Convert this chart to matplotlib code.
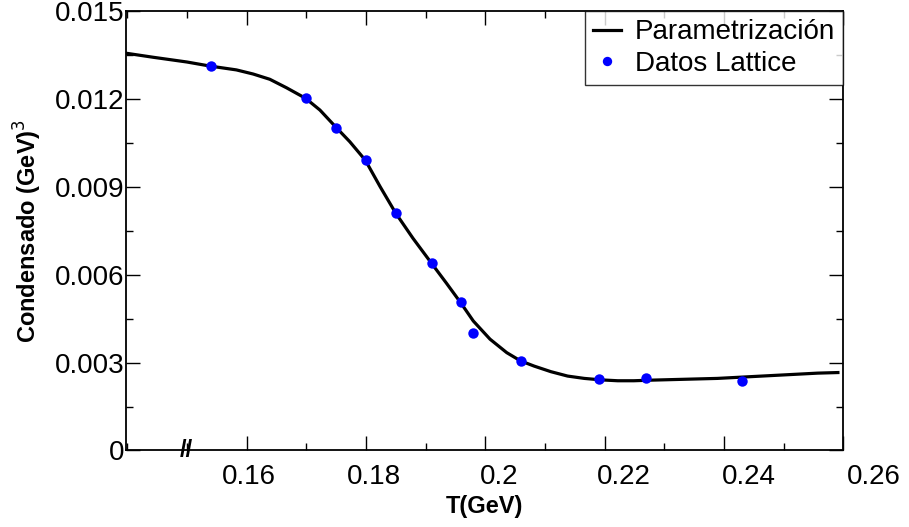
import numpy as np
import matplotlib
matplotlib.use('Agg')
import matplotlib.pyplot as plt
from matplotlib.ticker import MultipleLocator, FixedLocator
from matplotlib.transforms import ScaledTranslation

plt.rcParams['font.family'] = ['Liberation Sans', 'DejaVu Sans']

# Lattice data points
t_lat = [0.154, 0.170, 0.175, 0.180, 0.185, 0.191, 0.196, 0.198, 0.206, 0.219, 0.227, 0.243]
c_lat = [0.01311, 0.01202, 0.01100, 0.00991, 0.00810, 0.00639, 0.00508, 0.00402,
         0.00306, 0.00243, 0.00248, 0.00238]

# Parametrization curve
t_par = [0.1398, 0.1444, 0.1500, 0.1539, 0.1583, 0.1611, 0.1639, 0.1667, 0.1699,
         0.1723, 0.1750, 0.1773, 0.1799, 0.1824, 0.1850, 0.1879, 0.1910, 0.1935,
         0.1959, 0.1980, 0.2008, 0.2036, 0.2059, 0.2082, 0.2110, 0.2138, 0.2166,
         0.2194, 0.2222, 0.2249, 0.2277, 0.2333, 0.2389, 0.2445, 0.2501, 0.2557,
         0.2591]
c_par = [0.01356, 0.01342, 0.01326, 0.01312, 0.01299, 0.01285, 0.01267, 0.01238,
         0.01202, 0.01162, 0.01103, 0.01054, 0.00991, 0.00900, 0.00810, 0.00724,
         0.00639, 0.00571, 0.00504, 0.00442, 0.00380, 0.00334, 0.00306, 0.00288,
         0.00269, 0.00254, 0.00246, 0.00241, 0.00238, 0.00238, 0.00240, 0.00243,
         0.00246, 0.00252, 0.00258, 0.00264, 0.00266]

xticks = [0.16, 0.18, 0.2, 0.22, 0.24, 0.26]
xticklabels = ['0.16', '0.18', '0.2', '0.22', '0.24', '0.26']
yticks = [0, 0.003, 0.006, 0.009, 0.012, 0.015]
yticklabels = ['0', '0.003', '0.006', '0.009', '0.012', '0.015']

fig = plt.figure(figsize=(9.09, 5.27), dpi=100)
ax = fig.add_axes([0.1386, 0.1452, 0.7891, 0.8339])

ax.plot(t_par, c_par, color='black', lw=2.3, label='Parametrización', zorder=2,
        solid_joinstyle='round')
ax.plot(t_lat, c_lat, 'o', color='#0000ff', ms=7.5, mec='none', label='Datos Lattice', zorder=3)

ax.set_xlim(0.1398, 0.26)
ax.set_ylim(0, 0.015)

ax.xaxis.set_major_locator(FixedLocator(xticks))
ax.set_xticklabels(xticklabels)
ax.xaxis.set_minor_locator(MultipleLocator(0.01))
ax.yaxis.set_major_locator(FixedLocator(yticks))
ax.set_yticklabels(yticklabels)
ax.yaxis.set_minor_locator(MultipleLocator(0.0015))

ax.tick_params(which='both', direction='in', top=True, right=True, width=1.0, labelsize=20)
ax.tick_params(which='major', length=10)
ax.tick_params(which='minor', length=5)
ax.tick_params(axis='y', pad=1)
ax.tick_params(axis='x', pad=10)
for s in ax.spines.values():
    s.set_linewidth(1.3)

# the x labels drift to the right in the original picture
for i, lab in enumerate(ax.get_xticklabels()):
    dx = (2.3 + 5.7 * i) / 100.0
    lab.set_transform(lab.get_transform() + ScaledTranslation(dx, 0, fig.dpi_scale_trans))

ax.set_xlabel('T(GeV)', fontsize=17, fontweight='bold', labelpad=3)
ax.set_ylabel('Condensado (GeV)$^3$', fontsize=17, fontweight='bold', labelpad=8)

# axis break mark
ax.text(0.15, 0, '//', fontsize=17, ha='center', va='center', fontweight='bold',
        transform=ax.get_xaxis_transform(), clip_on=False, zorder=5)

leg = ax.legend(loc='upper right', fontsize=20, frameon=True, fancybox=False,
                borderaxespad=0, handlelength=1.0, handletextpad=0.5,
                labelspacing=0.2, borderpad=0.3, markerscale=0.9)
leg.get_frame().set_edgecolor('black')
leg.get_frame().set_linewidth(1.0)

fig.savefig('out.png', dpi=100)
